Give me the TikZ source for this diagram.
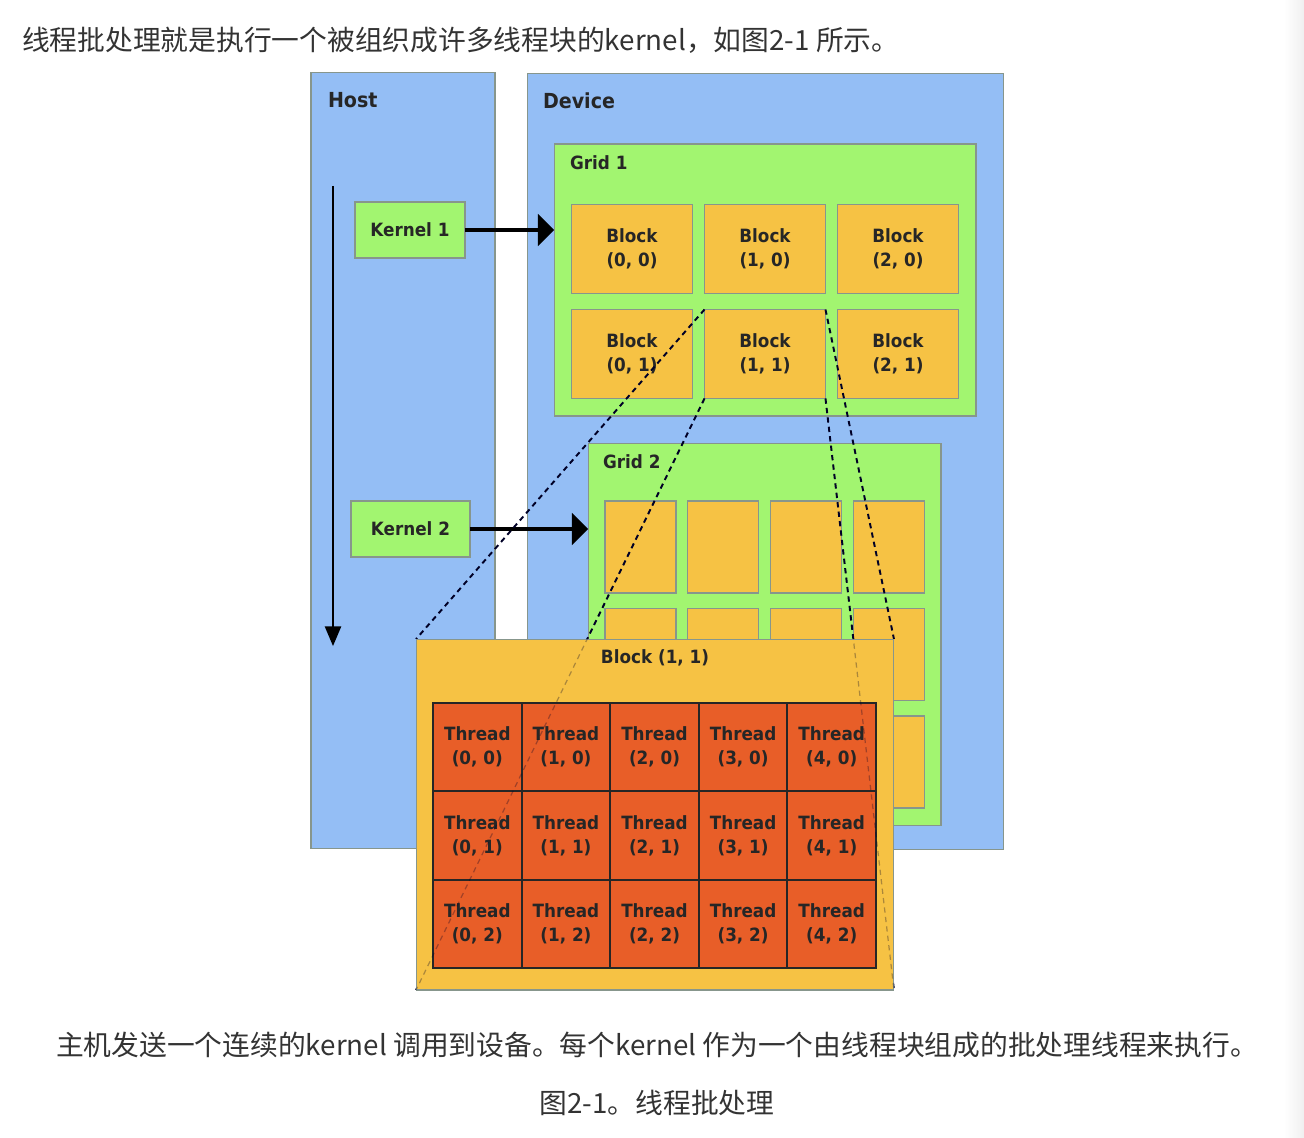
\documentclass[tikz,border=0pt]{standalone}
\usepackage{fontspec}
\newfontfamily\cjk{Noto Sans CJK SC}
\newfontfamily\lbl[FakeStretch=0.92]{DejaVu Sans}
\usetikzlibrary{arrows}
\definecolor{hostblue}{RGB}{148,190,245}
\definecolor{gridgreen}{RGB}{162,245,112}
\definecolor{blockorange}{RGB}{246,194,68}
\definecolor{threadred}{RGB}{232,94,40}
\definecolor{edgegray}{RGB}{135,150,140}
\pgfdeclarelayer{front}
\pgfsetlayers{main,front}

\begin{document}
\begin{tikzpicture}[x=0.02cm, y=-0.02cm, >=triangle 90,
  every node/.style={font=\lbl\bfseries\fontsize{10.4}{13.6}\selectfont, text=black!85, outer sep=0pt, inner sep=0pt},
  hostbox/.style={draw=edgegray, fill=hostblue, line width=0.6pt},
  gridbox/.style={draw=edgegray, fill=gridgreen, line width=0.6pt},
  blockbox/.style={draw=edgegray, fill=blockorange, line width=0.6pt, align=center},
  threadbox/.style={draw=black!85, fill=threadred, line width=1.2pt, align=center, minimum width=1.772cm, minimum height=1.766cm},
  boxtitle/.style={font=\lbl\bfseries\fontsize{11.8}{14}\selectfont, anchor=west},
  zoomline/.style={dash pattern=on 3pt off 2.4pt, line width=1.1pt, draw=black!85!blue},
  cjktext/.style={font=\cjk\fontsize{15.8}{20}\selectfont, text=black!80}]
\useasboundingbox (0,0) rectangle (1304,1138);
\shade[left color=white, right color=black!6] (1284,0) rectangle (1304,1138);

% host and device
\node[hostbox, minimum width=3.68cm, minimum height=15.54cm] (host) at (403,460.5) {};
\node[hostbox, minimum width=9.54cm, minimum height=15.54cm] (device) at (765.5,461.5) {};
\node[boxtitle] (hostlabel) at (328,100) {Host};
\node[boxtitle] (devicelabel) at (543,101) {Device};

% kernels
\node[gridbox, minimum width=2.2cm, minimum height=1.12cm] (k1) at (410,230) {Kernel 1};
\node[gridbox, minimum width=2.38cm, minimum height=1.12cm] (k2) at (410.5,529) {Kernel 2};
\coordinate (flowtop) at (333,186);
\coordinate (flowend) at (333,646);
\draw[-triangle 45, line width=1.6pt] (flowtop) -- (flowend);

% grid 1
\node[gridbox, minimum width=8.44cm, minimum height=5.44cm] (grid1) at (765,280) {};
\node[anchor=west] (grid1label) at (570,163) {Grid 1};
\foreach \i in {0,1,2}
  \foreach \j in {0,1}
    \node[blockbox, minimum width=2.42cm, minimum height=1.78cm] (b\i\j) at (632+133*\i,249+105*\j) {Block\\(\i, \j)};

% grid 2
\node[gridbox, minimum width=7.06cm, minimum height=7.66cm] (grid2) at (764.5,634.5) {};
\node[anchor=west] (grid2label) at (603,462) {Grid 2};
\foreach \i in {0,...,3}
  \foreach \j in {0,1,2}
    \node[blockbox, minimum width=1.42cm, minimum height=1.84cm] (g\i\j) at (640.5+82.7*\i,547+107.5*\j) {};

\draw[->, line width=2.3pt] (k1.east) -- (k1.east -| grid1.west);
\draw[->, line width=2.3pt] (k2.east) -- (k2.east -| grid2.west);

% block (1,1) blown up
\begin{pgfonlayer}{front}
\node[blockbox, minimum width=9.56cm, minimum height=7.02cm] (bigblock) at (655,814.5) {};
\node (bigtitle) at (655,658) {Block (1, 1)};
\foreach \i in {0,...,4}
  \foreach \j in {0,1,2}
    \node[threadbox] (t\i\j) at (477.3+88.6*\i,747.2+88.3*\j) {Thread\\(\i, \j)};
\draw[zoomline, draw opacity=0.3, line width=0.7pt] (b11.south west) -- (bigblock.south west);
\draw[zoomline, draw opacity=0.3, line width=0.7pt] (b11.south east) -- (bigblock.south east);
\end{pgfonlayer}
\draw[zoomline] (b11.north west) -- (bigblock.north west);
\draw[zoomline] (b11.north east) -- (bigblock.north east);
\draw[zoomline] (b11.south west) -- (bigblock.south west);
\draw[zoomline] (b11.south east) -- (bigblock.south east);

% text
\node[cjktext, anchor=west] (intro) at (22,40) {线程批处理就是执行一个被组织成许多线程块的kernel，如图2-1 所示。};
\node[cjktext] (caption) at (657,1045) {主机发送一个连续的kernel 调用到设备。每个kernel 作为一个由线程块组成的批处理线程来执行。};
\node[cjktext] (figlabel) at (657,1103) {图2-1。线程批处理};
\end{tikzpicture}
\end{document}
